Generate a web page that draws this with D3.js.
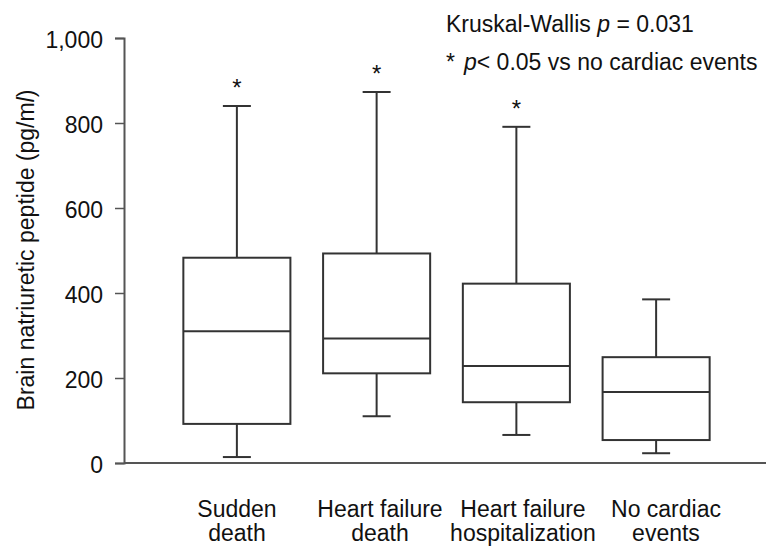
<!DOCTYPE html>
<html>
<head>
<meta charset="utf-8">
<script src="https://cdn.jsdelivr.net/npm/d3@7"></script>
<style>
  body { margin: 0; background: #fff; }
  text { font-family: "Liberation Sans", Arial, sans-serif; fill: #111; }
</style>
</head>
<body>
<div id="chart"></div>
<script>
// Data (pg/ml)
const categories = ['Sudden death', 'Heart failure death', 'Heart failure hospitalization', 'No cardiac events'];
const labelLines = [['Sudden', 'death'], ['Heart failure', 'death'], ['Heart failure', 'hospitalization'], ['No cardiac', 'events']];
const whiskerLow = [14, 110, 66, 23];
const q1 = [92, 211, 143, 54];
const median = [310, 293, 228, 167];
const q3 = [483, 493, 422, 249];
const whiskerHigh = [840, 873, 791, 385];
const significant = [true, true, true, false];
const yTicks = [0, 200, 400, 600, 800, 1000];

const width = 766;
const height = 546;
const axisX = 124;

const svg = d3.select('#chart')
  .append('svg')
  .attr('width', width)
  .attr('height', height);

const y = d3.scaleLinear().domain([0, 1000]).range([463, 38]);

const x = d3.scaleBand()
  .domain(categories)
  .range([167, 726])
  .paddingInner(0.234)
  .paddingOuter(0.117);

// category labels drift a little right of the boxes in the original
const xLabel = d3.scaleBand().domain(categories).range([165.5, 737.5]);

const lineColor = '#333';

// Y axis
const yAxis = svg.append('g')
  .attr('transform', `translate(${axisX},0)`)
  .call(d3.axisLeft(y).tickValues(yTicks).tickSize(9).tickPadding(12).tickFormat(d3.format(',')));
yAxis.select('.domain').attr('stroke', '#555').attr('stroke-width', 2);
yAxis.selectAll('.tick line').attr('stroke', '#555').attr('stroke-width', 1.5);
yAxis.selectAll('.tick text')
  .attr('font-size', '23px')
  .attr('fill', '#111')
  .attr('dy', '0.4em')
  .style('font-family', '"Liberation Sans", Arial, sans-serif');

// X axis line
svg.append('line')
  .attr('x1', axisX).attr('x2', width)
  .attr('y1', y(0)).attr('y2', y(0))
  .attr('stroke', '#555')
  .attr('stroke-width', 2);

// Y axis title
const yTitle = svg.append('text')
  .attr('transform', 'translate(34,250) rotate(-90)')
  .attr('text-anchor', 'middle')
  .attr('font-size', '23px');
yTitle.append('tspan').text('Brain natriuretic peptide (pg/m');
yTitle.append('tspan').attr('font-style', 'italic').text('l');
yTitle.append('tspan').text(')');

// Boxes
const rows = categories.map((c, i) => ({
  cat: c,
  lo: whiskerLow[i], q1: q1[i], med: median[i], q3: q3[i], hi: whiskerHigh[i],
  sig: significant[i], lines: labelLines[i]
}));

const g = svg.selectAll('.box')
  .data(rows)
  .enter()
  .append('g')
  .attr('class', 'box');

const bw = x.bandwidth();
const cx = d => x(d.cat) + bw / 2;
const capHalf = 14;

// whiskers
g.append('line')
  .attr('x1', cx).attr('x2', cx)
  .attr('y1', d => y(d.q3)).attr('y2', d => y(d.hi))
  .attr('stroke', lineColor).attr('stroke-width', 2);
g.append('line')
  .attr('x1', cx).attr('x2', cx)
  .attr('y1', d => y(d.q1)).attr('y2', d => y(d.lo))
  .attr('stroke', lineColor).attr('stroke-width', 2);
// caps
g.append('line')
  .attr('x1', d => cx(d) - capHalf).attr('x2', d => cx(d) + capHalf)
  .attr('y1', d => y(d.hi)).attr('y2', d => y(d.hi))
  .attr('stroke', lineColor).attr('stroke-width', 2);
g.append('line')
  .attr('x1', d => cx(d) - capHalf).attr('x2', d => cx(d) + capHalf)
  .attr('y1', d => y(d.lo)).attr('y2', d => y(d.lo))
  .attr('stroke', lineColor).attr('stroke-width', 2);
// box
g.append('rect')
  .attr('x', d => x(d.cat))
  .attr('y', d => y(d.q3))
  .attr('width', bw)
  .attr('height', d => y(d.q1) - y(d.q3))
  .attr('fill', 'none')
  .attr('stroke', lineColor)
  .attr('stroke-width', 2);
// median
g.append('line')
  .attr('x1', d => x(d.cat)).attr('x2', d => x(d.cat) + bw)
  .attr('y1', d => y(d.med)).attr('y2', d => y(d.med))
  .attr('stroke', lineColor).attr('stroke-width', 2);

// significance asterisks
g.filter(d => d.sig)
  .append('text')
  .attr('x', cx)
  .attr('y', d => y(d.hi) - 10)
  .attr('text-anchor', 'middle')
  .attr('font-size', '24px')
  .attr('fill', '#333')
  .text('*');

// category labels
g.append('text')
  .attr('text-anchor', 'middle')
  .attr('font-size', '23px')
  .selectAll('tspan')
  .data(d => d.lines.map(t => ({ t, cat: d.cat })))
  .enter()
  .append('tspan')
  .attr('x', d => xLabel(d.cat) + xLabel.bandwidth() / 2)
  .attr('y', (d, i) => 517 + i * 24)
  .text(d => d.t);

// Annotations
const ann1 = svg.append('text').attr('x', 446).attr('y', 32).attr('font-size', '23px');
ann1.append('tspan').text('Kruskal-Wallis ');
ann1.append('tspan').attr('font-style', 'italic').text('p');
ann1.append('tspan').text(' = 0.031');

const ann2 = svg.append('text').attr('x', 446).attr('y', 70).attr('font-size', '23px');
ann2.append('tspan').text('*');
ann2.append('tspan').attr('x', 464).attr('font-style', 'italic').text('p');
ann2.append('tspan').text('< 0.05 vs no cardiac events');
</script>
</body>
</html>
